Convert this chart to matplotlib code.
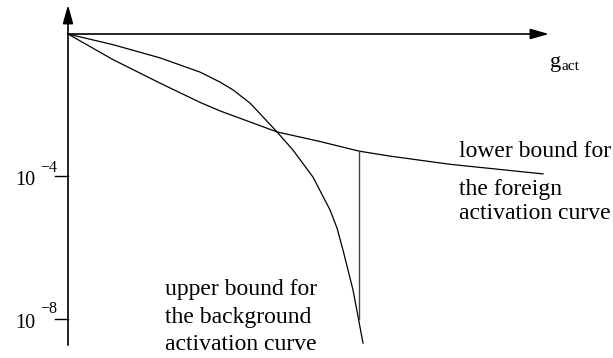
import matplotlib
matplotlib.use('Agg')
import matplotlib.pyplot as plt
import numpy as np
from matplotlib.patches import ArrowStyle

plt.rcParams['font.family'] = ['Liberation Serif', 'DejaVu Serif']

# background activation curve (upper bound): g_act and log10 of the value
bg_g   = [0.00, 0.45, 0.92, 1.32, 1.52, 1.65, 1.82, 2.09, 2.25, 2.45, 2.62, 2.69, 2.75, 2.85, 2.95]
bg_log = [0.00, -0.30, -0.67, -1.07, -1.35, -1.57, -1.94, -2.75, -3.26, -4.02, -4.94, -5.45, -6.07, -7.19, -8.68]

# foreign activation curve (lower bound)
fg_g   = [0.00, 0.45, 0.92, 1.32, 1.52, 2.09, 2.52, 2.91, 3.22, 3.82, 4.75]
fg_log = [0.00, -0.72, -1.38, -1.92, -2.16, -2.75, -3.02, -3.29, -3.43, -3.66, -3.93]

# y ticks (decades)
tick_exp = [-4, -8]
g_cut = 2.91   # where the gap between the bounds is marked

fig = plt.figure(figsize=(6.13, 3.58), dpi=100)
ax = fig.add_axes([0, 0, 1, 1])
ax.set_yscale('log')
ax.set_xlim(-0.68, 5.45)
ax.set_ylim(10 ** -9.101, 10 ** 0.955)
ax.axis('off')

# axes with arrow heads
arr = dict(arrowstyle=ArrowStyle('-|>', head_length=1.6, head_width=0.45),
           mutation_scale=7, lw=1.2, color='black', shrinkA=0, shrinkB=0)
ax.annotate('', xy=(0, 10 ** 0.815), xytext=(0, 10 ** -8.74), arrowprops=arr)
ax.annotate('', xy=(4.81, 1.0), xytext=(0, 1.0), arrowprops=arr)

ax.plot(bg_g, 10 ** np.array(bg_log), color='black', lw=0.9)
ax.plot(fg_g, 10 ** np.array(fg_log), color='black', lw=0.9)

top = 10 ** np.interp(g_cut, fg_g, fg_log)
ax.plot([g_cut, g_cut], [top, 1e-8], color='#444444', lw=1.0)

# ticks and labels
for e, base_off, sup_off in zip(tick_exp, [-0.24, -0.25], [0.12, 0.17]):
    ax.plot([-0.13, 0], [10.0 ** e, 10.0 ** e], color='black', lw=1.0)
    ax.text(-0.53, 10 ** (e + base_off), '10', fontsize=14.5, va='baseline', ha='left')
    ax.text(-0.28, 10 ** (e + sup_off), '\u2212%d' % -e, fontsize=11.5, va='baseline', ha='left')

ax.text(4.82, 10 ** -0.93, 'g', fontsize=16, va='baseline', ha='left')
ax.text(4.94, 10 ** -1.01, 'act', fontsize=11, va='baseline', ha='left')

ax.text(3.91, 10 ** -3.455, 'lower bound for', fontsize=17, va='baseline', ha='left')
ax.text(3.91, 10 ** -4.52, 'the foreign', fontsize=17, va='baseline', ha='left')
ax.text(3.91, 10 ** -5.20, 'activation curve', fontsize=17, va='baseline', ha='left')

ax.text(0.97, 10 ** -7.33, 'upper bound for', fontsize=17, va='baseline', ha='left')
ax.text(0.97, 10 ** -8.12, 'the background', fontsize=17, va='baseline', ha='left')
ax.text(0.97, 10 ** -8.88, 'activation curve', fontsize=17, va='baseline', ha='left')

fig.savefig('out.png', dpi=100)
